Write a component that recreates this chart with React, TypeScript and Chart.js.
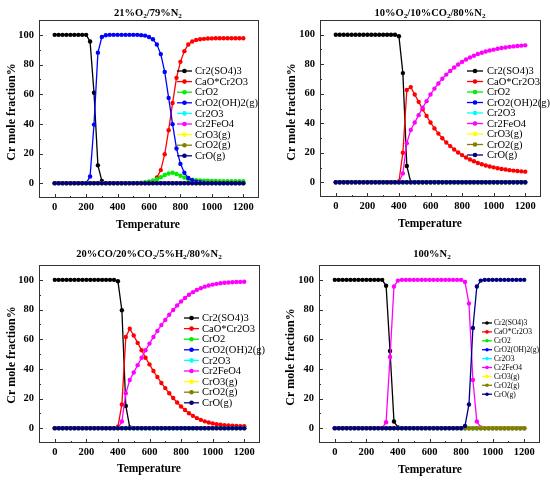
import { useEffect, useRef } from "react";
import { Chart, registerables } from "chart.js";

Chart.register(...registerables);

// ---------------- data ----------------
const temperatures = [
  0, 25, 50, 75, 100, 125, 150,
  175, 200, 225, 250, 275, 300, 325,
  350, 375, 400, 425, 450, 475, 500,
  525, 550, 575, 600, 625, 650, 675,
  700, 725, 750, 775, 800, 825, 850,
  875, 900, 925, 950, 975, 1000, 1025,
  1050, 1075, 1100, 1125, 1150, 1175, 1200,
];
const xTickValues = [0, 200, 400, 600, 800, 1000, 1200];
const xMinorValues = [100, 300, 500, 700, 900, 1100];
const yTickValues = [0, 20, 40, 60, 80, 100];
const yMinorValues = [10, 30, 50, 70, 90];

const seriesNames = [
  "Cr2(SO4)3",
  "CaO*Cr2O3",
  "CrO2",
  "CrO2(OH)2(g)",
  "Cr2O3",
  "Cr2FeO4",
  "CrO3(g)",
  "CrO2(g)",
  "CrO(g)",
];
const seriesColors = [
  "#000000",
  "#ff0000",
  "#00ee00",
  "#0000ff",
  "#00ffff",
  "#ff00ff",
  "#ffff00",
  "#808000",
  "#000080",
];

const zeroSeries = [
  0, 0, 0, 0, 0, 0, 0,
  0, 0, 0, 0, 0, 0, 0,
  0, 0, 0, 0, 0, 0, 0,
  0, 0, 0, 0, 0, 0, 0,
  0, 0, 0, 0, 0, 0, 0,
  0, 0, 0, 0, 0, 0, 0,
  0, 0, 0, 0, 0, 0, 0,
];

// Panel 1: 21%O2/79%N2
const p1Sulfate = [
  100, 100, 100, 100, 100, 100, 100,
  100, 100, 95.5, 61, 12, 1.5, 0,
  0, 0, 0, 0, 0, 0, 0,
  0, 0, 0, 0, 0, 0, 0,
  0, 0, 0, 0, 0, 0, 0,
  0, 0, 0, 0, 0, 0, 0,
  0, 0, 0, 0, 0, 0, 0,
];
const p1CaOCr2O3 = [
  0, 0, 0, 0, 0, 0, 0,
  0, 0, 0, 0, 0, 0, 0,
  0, 0, 0, 0, 0, 0, 0,
  0, 0, 0, 0, 0.3, 3.8, 8.8,
  19.5, 35.7, 54, 71, 81.8, 89, 93.5,
  95.5, 96.5, 97, 97.3, 97.5, 97.6, 97.7,
  97.7, 97.7, 97.7, 97.7, 97.7, 97.7, 97.7,
];
const p1CrO2 = [
  0, 0, 0, 0, 0, 0, 0,
  0, 0, 0, 0, 0, 0, 0,
  0, 0, 0, 0, 0, 0, 0,
  0.1, 0.3, 0.6, 1.2, 1.8, 2.6, 4,
  5.5, 6.5, 7, 6.2, 5, 3.8, 2.8,
  2.3, 2, 1.8, 1.7, 1.6, 1.5, 1.5,
  1.4, 1.4, 1.4, 1.4, 1.3, 1.3, 1.3,
];
const p1CrO2OH2 = [
  0, 0, 0, 0, 0, 0, 0,
  0, 0, 4.5, 39.5, 88, 98.5, 99.7,
  100, 100, 100, 100, 100, 100, 100,
  100, 99.8, 99.5, 98.5, 97, 93.5, 87,
  75, 57.5, 39.8, 23.4, 13, 7, 3.5,
  2, 1, 0.6, 0.3, 0.2, 0.1, 0.1,
  0, 0, 0, 0, 0, 0, 0,
];

// Panel 2: 10%O2/10%CO2/80%N2
const p2Sulfate = [
  100, 100, 100, 100, 100, 100, 100,
  100, 100, 100, 100, 100, 100, 100,
  100, 100, 99, 74, 11, 0, 0,
  0, 0, 0, 0, 0, 0, 0,
  0, 0, 0, 0, 0, 0, 0,
  0, 0, 0, 0, 0, 0, 0,
  0, 0, 0, 0, 0, 0, 0,
];
const p2CaOCr2O3 = [
  0, 0, 0, 0, 0, 0, 0,
  0, 0, 0, 0, 0, 0, 0,
  0, 0, 0.5, 20, 62.5, 64.5, 59.5,
  54.5, 49.5, 45, 40.5, 36.5, 33, 29.8,
  27, 24.5, 22.2, 20.2, 18.4, 16.8, 15.4,
  14.2, 13.1, 12.2, 11.4, 10.7, 10.1, 9.5,
  9, 8.6, 8.2, 7.9, 7.6, 7.4, 7.2,
];
const p2Cr2FeO4 = [
  0, 0, 0, 0, 0, 0, 0,
  0, 0, 0, 0, 0, 0, 0,
  0, 0, 0, 6, 26.5, 35.5, 40.5,
  45.5, 50.5, 55, 59.5, 63.5, 67, 70.2,
  73, 75.5, 77.8, 79.8, 81.6, 83.2, 84.6,
  85.8, 86.9, 87.8, 88.6, 89.3, 89.9, 90.5,
  91, 91.4, 91.8, 92.1, 92.4, 92.6, 92.8,
];

// Panel 3: 20%CO/20%CO2/5%H2/80%N2
const p3Sulfate = [
  100, 100, 100, 100, 100, 100, 100,
  100, 100, 100, 100, 100, 100, 100,
  100, 100, 99, 79.5, 15, 0.5, 0,
  0, 0, 0, 0, 0, 0, 0,
  0, 0, 0, 0, 0, 0, 0,
  0, 0, 0, 0, 0, 0, 0,
  0, 0, 0, 0, 0, 0, 0,
];
const p3CaOCr2O3 = [
  0, 0, 0, 0, 0, 0, 0,
  0, 0, 0, 0, 0, 0, 0,
  0, 0, 1, 16, 61.5, 67, 62.5,
  57.5, 52.5, 47.5, 43, 38.5, 34.5, 30.5,
  27, 23.5, 20.3, 17.3, 14.6, 12.2, 10.1,
  8.3, 6.8, 5.6, 4.6, 3.8, 3.2, 2.7,
  2.3, 2, 1.8, 1.6, 1.5, 1.4, 1.3,
];
const p3Cr2FeO4 = [
  0, 0, 0, 0, 0, 0, 0,
  0, 0, 0, 0, 0, 0, 0,
  0, 0, 0, 4.5, 23.5, 32.5, 37.5,
  42.5, 47.5, 52.5, 57, 61.5, 65.5, 69.5,
  73, 76.5, 79.7, 82.7, 85.4, 87.8, 89.9,
  91.7, 93.2, 94.4, 95.4, 96.2, 96.8, 97.3,
  97.7, 98, 98.2, 98.4, 98.5, 98.6, 98.7,
];

// Panel 4: 100%N2
const p4Sulfate = [
  100, 100, 100, 100, 100, 100, 100,
  100, 100, 100, 100, 100, 100, 96,
  52, 4.5, 0.5, 0, 0, 0, 0,
  0, 0, 0, 0, 0, 0, 0,
  0, 0, 0, 0, 0, 0, 0,
  0, 0, 0, 0, 0, 0, 0,
  0, 0, 0, 0, 0, 0, 0,
];
const p4Cr2FeO4 = [
  0, 0, 0, 0, 0, 0, 0,
  0, 0, 0, 0, 0, 0, 4,
  48, 95.5, 99.5, 100, 100, 100, 100,
  100, 100, 100, 100, 100, 100, 100,
  100, 100, 100, 100, 100, 98.5, 84,
  32.5, 4.5, 0.5, 0, 0, 0, 0,
  0, 0, 0, 0, 0, 0, 0,
];
const p4CrO = [
  0, 0, 0, 0, 0, 0, 0,
  0, 0, 0, 0, 0, 0, 0,
  0, 0, 0, 0, 0, 0, 0,
  0, 0, 0, 0, 0, 0, 0,
  0, 0, 0, 0, 0, 1.5, 16,
  67.5, 95.5, 99.5, 100, 100, 100, 100,
  100, 100, 100, 100, 100, 100, 100,
];

const panel1Series = [p1Sulfate, p1CaOCr2O3, p1CrO2, p1CrO2OH2, zeroSeries, zeroSeries, zeroSeries, zeroSeries, zeroSeries];
const panel2Series = [p2Sulfate, p2CaOCr2O3, zeroSeries, zeroSeries, zeroSeries, p2Cr2FeO4, zeroSeries, zeroSeries, zeroSeries];
const panel3Series = [p3Sulfate, p3CaOCr2O3, zeroSeries, zeroSeries, zeroSeries, p3Cr2FeO4, zeroSeries, zeroSeries, zeroSeries];
const panel4Series = [p4Sulfate, zeroSeries, zeroSeries, zeroSeries, zeroSeries, p4Cr2FeO4, zeroSeries, zeroSeries, p4CrO];

const panelTitles = [
  "21%O₂/79%N₂",
  "10%O₂/10%CO₂/80%N₂",
  "20%CO/20%CO₂/5%H₂/80%N₂",
  "100%N₂",
];
const xAxisTitle = "Temperature";
const yAxisTitle = "Cr mole fraction%";

// ---------------- layout ----------------
const SERIF = "'Liberation Serif', 'Times New Roman', serif";
const CELL_W = 275;
const CELL_H = 240;

type Layout = {
  left: number; right: number; top: number; bottom: number;
  titleX: number; titleY: number;
  yTitleX: number; yTitleY: number;
  xTitleX: number; xTitleY: number;
  legX1: number; legX2: number; legTextX: number; legY0: number; legDy: number; legFont: number;
};

const layouts: Layout[] = [
  { left: 39, right: 259, top: 20, bottom: 198, titleX: 148, titleY: 13, yTitleX: 12, yTitleY: 112, xTitleX: 148, xTitleY: 225,
    legX1: 177, legX2: 192, legTextX: 195, legY0: 71, legDy: 10.6, legFont: 10.5 },
  { left: 45, right: 266, top: 20, bottom: 197, titleX: 155, titleY: 13, yTitleX: 17, yTitleY: 112, xTitleX: 155, xTitleY: 224,
    legX1: 192, legX2: 208, legTextX: 212, legY0: 71, legDy: 10.5, legFont: 10.5 },
  { left: 39, right: 260, top: 25, bottom: 203, titleX: 149, titleY: 14, yTitleX: 12, yTitleY: 115, xTitleX: 149, xTitleY: 229,
    legX1: 184, legX2: 199, legTextX: 202, legY0: 78, legDy: 10.6, legFont: 10.5 },
  { left: 44, right: 265, top: 25, bottom: 203, titleX: 157, titleY: 14, yTitleX: 16, yTitleY: 117, xTitleX: 155, xTitleY: 230,
    legX1: 207, legX2: 217, legTextX: 219, legY0: 83, legDy: 8.9, legFont: 7.5 },
];

function drawRich(ctx: CanvasRenderingContext2D, text: string, cx: number, cy: number, size: number) {
  const subs = "₀₁₂₃₄₅₆₇₈₉";
  const parts: { t: string; sub: boolean }[] = [];
  for (const ch of text) {
    const i = subs.indexOf(ch);
    const sub = i >= 0;
    const c = sub ? String(i) : ch;
    const last = parts[parts.length - 1];
    if (last && last.sub === sub) last.t += c;
    else parts.push({ t: c, sub });
  }
  const subSize = size * 0.68;
  let total = 0;
  const widths = parts.map((p) => {
    ctx.font = `bold ${p.sub ? subSize : size}px ${SERIF}`;
    const w = ctx.measureText(p.t).width;
    total += w;
    return w;
  });
  let x = cx - total / 2;
  ctx.textAlign = "left";
  ctx.textBaseline = "middle";
  ctx.fillStyle = "#000";
  parts.forEach((p, i) => {
    ctx.font = `bold ${p.sub ? subSize : size}px ${SERIF}`;
    ctx.fillText(p.t, x, p.sub ? cy + size * 0.3 : cy);
    x += widths[i];
  });
}

const decorPlugin = {
  id: "panelDecor",
  afterDraw(chart: any, _args: any, opts: any) {
    const L: Layout = opts.layout;
    const ctx: CanvasRenderingContext2D = chart.ctx;
    const a = chart.chartArea;
    const xs = chart.scales.x;
    const ys = chart.scales.y;
    ctx.save();
    // frame
    ctx.strokeStyle = "#333";
    ctx.lineWidth = 1;
    ctx.strokeRect(Math.round(a.left) + 0.5, Math.round(a.top) + 0.5, Math.round(a.right - a.left) - 1, Math.round(a.bottom - a.top) - 1);
    // inward ticks
    ctx.beginPath();
    xTickValues.forEach((v) => {
      const px = Math.round(xs.getPixelForValue(v)) + 0.5;
      ctx.moveTo(px, a.bottom);
      ctx.lineTo(px, a.bottom - 4);
    });
    xMinorValues.forEach((v) => {
      const px = Math.round(xs.getPixelForValue(v)) + 0.5;
      ctx.moveTo(px, a.bottom);
      ctx.lineTo(px, a.bottom - 2);
    });
    yTickValues.forEach((v) => {
      const py = Math.round(ys.getPixelForValue(v)) + 0.5;
      ctx.moveTo(a.left, py);
      ctx.lineTo(a.left + 4, py);
    });
    yMinorValues.forEach((v) => {
      const py = Math.round(ys.getPixelForValue(v)) + 0.5;
      ctx.moveTo(a.left, py);
      ctx.lineTo(a.left + 2, py);
    });
    ctx.stroke();
    // title
    drawRich(ctx, opts.title, L.titleX, L.titleY, 10.5);
    // x axis title
    ctx.font = `bold 11.5px ${SERIF}`;
    ctx.fillStyle = "#000";
    ctx.textAlign = "center";
    ctx.textBaseline = "middle";
    ctx.fillText(xAxisTitle, L.xTitleX, L.xTitleY);
    // y axis title
    ctx.save();
    ctx.translate(L.yTitleX, L.yTitleY);
    ctx.rotate(-Math.PI / 2);
    ctx.font = `bold 12px ${SERIF}`;
    ctx.fillText(yAxisTitle, 0, 0);
    ctx.restore();
    // legend
    seriesNames.forEach((name, i) => {
      const y = L.legY0 + i * L.legDy;
      ctx.strokeStyle = seriesColors[i];
      ctx.lineWidth = 1.3;
      ctx.beginPath();
      ctx.moveTo(L.legX1, y);
      ctx.lineTo(L.legX2, y);
      ctx.stroke();
      ctx.fillStyle = seriesColors[i];
      ctx.beginPath();
      ctx.arc((L.legX1 + L.legX2) / 2, y, L.legFont > 9 ? 2.3 : 1.8, 0, Math.PI * 2);
      ctx.fill();
      ctx.fillStyle = "#000";
      ctx.font = `${L.legFont}px ${SERIF}`;
      ctx.textAlign = "left";
      ctx.textBaseline = "middle";
      ctx.fillText(name, L.legTextX, y + 0.5);
    });
    ctx.restore();
  },
};

function Panel({ series, title, layout, left, top }: { series: number[][]; title: string; layout: Layout; left: number; top: number }) {
  const ref = useRef<HTMLCanvasElement | null>(null);
  useEffect(() => {
    if (!ref.current) return;
    const tickFont = { family: SERIF, size: 10.5, weight: "bold" as const };
    const chart = new Chart(ref.current, {
      type: "line",
      data: {
        datasets: seriesNames.map((name, i) => ({
          label: name,
          data: temperatures.map((t, k) => ({ x: t, y: series[i][k] })),
          borderColor: seriesColors[i],
          backgroundColor: seriesColors[i],
          pointBackgroundColor: seriesColors[i],
          pointBorderColor: seriesColors[i],
          pointBorderWidth: 0,
          pointRadius: 2.2,
          borderWidth: 1.3,
          tension: 0,
          fill: false,
          order: seriesNames.length - 1 - i,
        })),
      },
      options: {
        responsive: false,
        animation: false,
        events: [],
        layout: { padding: { left: 0, top: layout.top, right: CELL_W - layout.right, bottom: 0 } },
        plugins: {
          legend: { display: false },
          tooltip: { enabled: false },
          title: { display: false },
          panelDecor: { title, layout },
        } as any,
        scales: {
          x: {
            type: "linear",
            min: -100,
            max: 1300,
            grid: { display: false, drawTicks: false, tickLength: 0 },
            border: { display: false },
            ticks: {
              font: tickFont,
              color: "#000",
              padding: 3,
              maxRotation: 0,
              autoSkip: false,
              callback: (v: any) => String(v),
            },
            afterBuildTicks: (s: any) => {
              s.ticks = xTickValues.map((v) => ({ value: v }));
            },
            afterFit: (s: any) => {
              s.height = CELL_H - layout.bottom;
            },
          },
          y: {
            type: "linear",
            min: -10,
            max: 110,
            grid: { display: false, drawTicks: false, tickLength: 0 },
            border: { display: false },
            ticks: { font: tickFont, color: "#000", padding: 5, callback: (v: any) => String(v) },
            afterBuildTicks: (s: any) => {
              s.ticks = yTickValues.map((v) => ({ value: v }));
            },
            afterFit: (s: any) => {
              s.width = layout.left;
            },
          },
        },
      },
      plugins: [decorPlugin],
    } as any);
    return () => chart.destroy();
  }, [series, title, layout]);
  return (
    <canvas
      ref={ref}
      width={CELL_W}
      height={CELL_H}
      style={{ position: "absolute", left, top, width: CELL_W, height: CELL_H }}
    />
  );
}

export default function App() {
  const all = [panel1Series, panel2Series, panel3Series, panel4Series];
  return (
    <div style={{ position: "absolute", left: 0, top: 0, width: 550, height: 480, background: "#fff", overflow: "hidden" }}>
      {all.map((s, i) => (
        <Panel
          key={i}
          series={s}
          title={panelTitles[i]}
          layout={layouts[i]}
          left={(i % 2) * CELL_W}
          top={Math.floor(i / 2) * CELL_H}
        />
      ))}
    </div>
  );
}
